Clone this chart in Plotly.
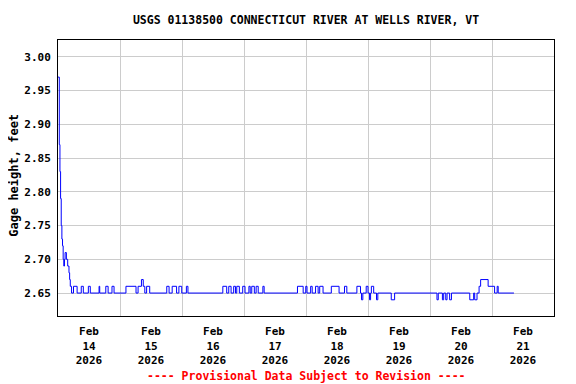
import datetime as dt
import plotly.graph_objects as go

# Gage height readings: hours after 2026-02-14 00:00 at which value changes, and the value (feet)
change_hours = [
    0.0, 0.5, 0.75, 1.0, 1.25, 1.5, 1.75, 2.0, 2.25, 2.5, 2.75, 3.25, 3.75, 4.25, 4.5, 4.75, 5.25,
    6.0, 7.4, 9.0, 9.8, 11.75, 12.5, 15.9, 16.15, 18.5, 19.4, 20.9, 21.7,
    26.3, 30.2, 31.0, 32.3, 33.0, 33.6, 34.3, 35.5, 42.1, 43.0, 44.2, 45.9, 46.8, 47.9, 49.7, 50.3,
    63.8, 65.3, 66.1, 67.0, 68.0, 68.7, 69.2, 70.2, 71.5, 72.4, 73.9, 74.4, 75.0, 76.0, 76.7, 77.5,
    79.3, 79.8,
    92.7, 94.9, 95.9, 96.4, 97.8, 98.4, 99.7, 100.7, 101.3, 102.6, 105.8, 108.8, 110.9, 111.8,
    115.7, 117.1, 117.5, 118.0, 119.3, 120.0, 120.6, 121.0, 121.3, 122.2, 123.3, 123.8, 129.0, 130.3,
    146.7, 147.2, 148.8, 149.3, 150.1, 150.6, 151.6, 152.3, 159.4, 160.9, 161.3, 162.2,
    163.0, 163.6, 166.5, 169.0, 170.0, 170.4, 176.5,
]
gage_height = [
    2.97, 2.87, 2.83, 2.79, 2.75, 2.73, 2.72, 2.70, 2.69, 2.70, 2.71, 2.70, 2.69, 2.68, 2.67, 2.66, 2.65,
    2.66, 2.65, 2.66, 2.65, 2.66, 2.65, 2.66, 2.65, 2.66, 2.65, 2.66, 2.65,
    2.66, 2.65, 2.66, 2.67, 2.66, 2.65, 2.66, 2.65, 2.66, 2.65, 2.66, 2.65, 2.66, 2.65, 2.66, 2.65,
    2.66, 2.65, 2.66, 2.65, 2.66, 2.65, 2.66, 2.65, 2.66, 2.65, 2.66, 2.65, 2.66, 2.65, 2.66, 2.65,
    2.66, 2.65,
    2.66, 2.65, 2.66, 2.65, 2.66, 2.65, 2.66, 2.65, 2.66, 2.65, 2.66, 2.65, 2.66, 2.65,
    2.66, 2.65, 2.64, 2.65, 2.66, 2.65, 2.64, 2.65, 2.66, 2.65, 2.64, 2.65, 2.64, 2.65,
    2.64, 2.65, 2.64, 2.65, 2.64, 2.65, 2.64, 2.65, 2.64, 2.65, 2.64, 2.65,
    2.66, 2.67, 2.66, 2.65, 2.66, 2.65, 2.65,
]

tick_days = ["2026-02-14", "2026-02-15", "2026-02-16", "2026-02-17",
             "2026-02-18", "2026-02-19", "2026-02-20", "2026-02-21"]
tick_labels = ["Feb<br>14<br>2026", "Feb<br>15<br>2026", "Feb<br>16<br>2026", "Feb<br>17<br>2026",
               "Feb<br>18<br>2026", "Feb<br>19<br>2026", "Feb<br>20<br>2026", "Feb<br>21<br>2026"]
y_ticks = [2.65, 2.70, 2.75, 2.80, 2.85, 2.90, 2.95, 3.00]

start = dt.datetime(2026, 2, 14)
times = [start + dt.timedelta(hours=h) for h in change_hours]
noon_ticks = [dt.datetime.fromisoformat(d) + dt.timedelta(hours=12) for d in tick_days]
midnights = [dt.datetime.fromisoformat(d) for d in tick_days[1:]]

FONT = "DejaVu Sans Mono"
W, H = 568, 376  # page body has an 8px margin

fig = go.Figure()
fig.add_trace(go.Scatter(x=times, y=gage_height, mode="lines", line_shape="hv",
                         line=dict(color="#0000ff", width=1), showlegend=False,
                         hoverinfo="skip"))

fig.update_layout(
    width=W, height=H,
    margin=dict(l=50, r=22, t=32, b=68, autoexpand=False),
    paper_bgcolor="white", plot_bgcolor="white",
    font=dict(family=FONT, size=11, color="black", weight="bold"),
    title=dict(text="USGS 01138500 CONNECTICUT RIVER AT WELLS RIVER, VT",
               x=0.5, xref="paper", xanchor="center",
               y=(H - 12) / H, yref="container", yanchor="middle",
               font=dict(family=FONT, size=11.5, color="black", weight="bold")),
    xaxis=dict(
        range=[start, start + dt.timedelta(days=8)],
        tickmode="array", tickvals=noon_ticks, ticktext=tick_labels,
        showgrid=False, ticks="", ticklabelstandoff=5,
        showline=True, linecolor="black", linewidth=1, mirror=True,
        tickfont=dict(family=FONT, size=11, weight="bold"),
        minor=dict(tickmode="array", tickvals=midnights, showgrid=True,
                   gridcolor="#cccccc", gridwidth=1, ticks=""),
        zeroline=False,
    ),
    yaxis=dict(
        range=[2.616, 3.025],
        tickmode="array", tickvals=y_ticks, tickformat=".2f",
        showgrid=True, gridcolor="#cccccc", gridwidth=1, ticks="", ticklabelstandoff=4,
        showline=True, linecolor="black", linewidth=1, mirror=True,
        tickfont=dict(family=FONT, size=11, weight="bold"),
        zeroline=False,
    ),
    annotations=[
        dict(text="Gage height, feet", textangle=-90, x=-0.0877, y=0.51,
             xref="paper", yref="paper", xanchor="center", yanchor="middle",
             showarrow=False, font=dict(family=FONT, size=12, color="black", weight="bold")),
        dict(text="---- Provisional Data Subject to Revision ----", x=0.5, y=-0.217,
             xref="paper", yref="paper", xanchor="center", yanchor="middle",
             showarrow=False, font=dict(family=FONT, size=11.5, color="red", weight="bold")),
    ],
)

fig.write_html("out.html")
